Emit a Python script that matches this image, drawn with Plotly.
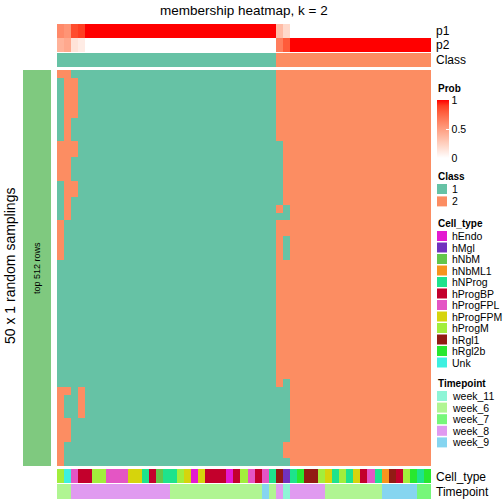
import plotly.graph_objects as go

# ---------------- data ----------------
n_samples = 53
n_runs = 50

# membership probabilities per sample (columns)
p1 = [0.6, 0.55, 0.85, 0.9, 1, 1, 1, 1, 1, 1, 1, 1, 1, 1, 1, 1, 1, 1, 1, 1,
      1, 1, 1, 1, 1, 1, 1, 1, 1, 1, 1, 0.35, 0.2, 0, 0, 0, 0, 0, 0, 0,
      0, 0, 0, 0, 0, 0, 0, 0, 0, 0, 0, 0, 0]
p2 = [0.4, 0.45, 0.15, 0.1, 0, 0, 0, 0, 0, 0, 0, 0, 0, 0, 0, 0, 0, 0, 0, 0,
      0, 0, 0, 0, 0, 0, 0, 0, 0, 0, 0, 0.65, 0.8, 1, 1, 1, 1, 1, 1, 1,
      1, 1, 1, 1, 1, 1, 1, 1, 1, 1, 1, 1, 1]

# consensus class per sample
class_row = ("1111111111111111111111111111111"
             "2222222222222222222222")

# class assigned in each of the 50 random samplings (rows), per sample
membership_rows = [
    "22111" "11111111111111111111111111" "222" "2222222222222222222",
    "12211" "11111111111111111111111111" "222" "2222222222222222222",
    "12211" "11111111111111111111111111" "222" "2222222222222222222",
    "12211" "11111111111111111111111111" "222" "2222222222222222222",
    "12211" "11111111111111111111111111" "222" "2222222222222222222",
    "12211" "11111111111111111111111111" "222" "2222222222222222222",
    "12111" "11111111111111111111111111" "222" "2222222222222222222",
    "12111" "11111111111111111111111111" "222" "2222222222222222222",
    "12111" "11111111111111111111111111" "222" "2222222222222222222",
    "22211" "11111111111111111111111111" "122" "2222222222222222222",
    "22211" "11111111111111111111111111" "122" "2222222222222222222",
    "22111" "11111111111111111111111111" "122" "2222222222222222222",
    "22111" "11111111111111111111111111" "122" "2222222222222222222",
    "22111" "11111111111111111111111111" "122" "2222222222222222222",
    "12211" "11111111111111111111111111" "122" "2222222222222222222",
    "12211" "11111111111111111111111111" "122" "2222222222222222222",
    "12111" "11111111111111111111111111" "122" "2222222222222222222",
    "12111" "11111111111111111111111111" "212" "2222222222222222222",
    "12111" "11111111111111111111111111" "112" "2222222222222222222",
    "21111" "11111111111111111111111111" "222" "2222222222222222222",
    "21111" "11111111111111111111111111" "222" "2222222222222222222",
    "21111" "11111111111111111111111111" "212" "2222222222222222222",
    "21111" "11111111111111111111111111" "212" "2222222222222222222",
    "21111" "11111111111111111111111111" "212" "2222222222222222222",
    "11111" "11111111111111111111111111" "222" "2222222222222222222",
    "11111" "11111111111111111111111111" "222" "2222222222222222222",
    "11111" "11111111111111111111111111" "222" "2222222222222222222",
    "11111" "11111111111111111111111111" "222" "2222222222222222222",
    "11111" "11111111111111111111111111" "222" "2222222222222222222",
    "11111" "11111111111111111111111111" "222" "2222222222222222222",
    "11111" "11111111111111111111111111" "222" "2222222222222222222",
    "11111" "11111111111111111111111111" "222" "2222222222222222222",
    "11111" "11111111111111111111111111" "222" "2222222222222222222",
    "11111" "11111111111111111111111111" "222" "2222222222222222222",
    "11111" "11111111111111111111111111" "222" "2222222222222222222",
    "11111" "11111111111111111111111111" "222" "2222222222222222222",
    "11111" "11111111111111111111111111" "222" "2222222222222222222",
    "11111" "11111111111111111111111111" "222" "2222222222222222222",
    "11111" "11111111111111111111111111" "222" "2222222222222222222",
    "11111" "11111111111111111111111111" "212" "2222222222222222222",
    "22121" "11111111111111111111111111" "112" "2222222222222222222",
    "21121" "11111111111111111111111111" "112" "2222222222222222222",
    "21121" "11111111111111111111111111" "112" "2222222222222222222",
    "21121" "11111111111111111111111111" "112" "2222222222222222222",
    "22111" "11111111111111111111111111" "112" "2222222222222222222",
    "22111" "11111111111111111111111111" "112" "2222222222222222222",
    "22111" "11111111111111111111111111" "112" "2222222222222222222",
    "21111" "11111111111111111111111111" "122" "2222222222222222222",
    "21111" "11111111111111111111111111" "122" "2222222222222222222",
    "21111" "11111111111111111111111111" "112" "2222222222222222222",
]

class_labels = ["1", "2"]
class_colors = ["#66C2A5", "#FC8D62"]

cell_types = ["hEndo", "hMgl", "hNbM", "hNbML1", "hNProg", "hProgBP",
              "hProgFPL", "hProgFPM", "hProgM", "hRgl1", "hRgl2b", "Unk"]
cell_colors = ["#E31AD0", "#7132BE", "#63C64A", "#F7941D", "#1EE38C", "#C3002C",
               "#E455C4", "#D6D40C", "#A2EE3C", "#921B14", "#28E82F", "#3DF0E0"]
sample_cell_type = [
    "hProgM", "Unk", "hProgFPL", "hProgBP", "hProgBP", "hProgM", "hProgM",
    "hProgFPL", "hProgFPL", "hProgFPL", "hProgFPM", "hProgFPM", "hNProg",
    "hProgBP", "hNbM", "hNProg", "hNProg", "hProgM", "hProgFPM", "hEndo",
    "hProgFPM", "hProgBP", "hProgBP", "hProgBP", "hEndo", "hProgBP", "hProgM",
    "hProgFPL", "hProgBP", "hProgFPL", "hNProg", "hRgl1", "hMgl", "hNProg",
    "hRgl2b", "hRgl1", "hRgl1", "hProgM", "hProgFPM", "hNProg", "hProgM",
    "hNProg", "hProgFPM", "hProgBP", "hProgFPL", "hNProg", "hNbML1", "hRgl1",
    "hProgBP", "hProgM", "hRgl2b", "hNProg", "hRgl2b"]

timepoints = ["week_11", "week_6", "week_7", "week_8", "week_9"]
time_colors = ["#8EF5D6", "#B0F592", "#76F77A", "#E09AF0", "#86D5F0"]
sample_timepoint = (
    ["week_6"] * 2 + ["week_8"] * 14 + ["week_6"] * 13 + ["week_9"] +
    ["week_6"] + ["week_8"] + ["week_11"] + ["week_8"] * 5 + ["week_6"] * 8 +
    ["week_9"] * 5 + ["week_7"] * 2)

assert all(len(r) == n_samples for r in membership_rows), [len(r) for r in membership_rows]
assert len(membership_rows) == n_runs
assert len(sample_cell_type) == n_samples and len(sample_timepoint) == n_samples
assert len(p1) == n_samples and len(p2) == n_samples and len(class_row) == n_samples

# ---------------- helpers ----------------
W = H = 504


def px(x):
    return x / W


def py(y):
    return 1 - y / H


def lab_to_hex(L, a, b):
    fy = (L + 16) / 116
    fx = fy + a / 500
    fz = fy - b / 200

    def finv(t):
        return t ** 3 if t > 6 / 29 else 3 * (6 / 29) ** 2 * (t - 4 / 29)
    X, Y, Z = 0.95047 * finv(fx), finv(fy), 1.08883 * finv(fz)
    rl = 3.2406 * X - 1.5372 * Y - 0.4986 * Z
    gl = -0.9689 * X + 1.8758 * Y + 0.0415 * Z
    bl = 0.0557 * X - 0.2040 * Y + 1.0570 * Z

    def g(c):
        c = min(max(c, 0), 1)
        return 12.92 * c if c <= 0.0031308 else 1.055 * c ** (1 / 2.4) - 0.055
    return "#%02X%02X%02X" % tuple(int(round(g(c) * 255)) for c in (rl, gl, bl))


white_lab = (100.0, 0.0, 0.0)
red_lab = (53.2408, 80.0925, 67.2032)
prob_scale = []
for i in range(11):
    t = i / 10
    lab = [w + (r - w) * t for w, r in zip(white_lab, red_lab)]
    prob_scale.append([t, lab_to_hex(*lab)])


def discrete_scale(colors):
    n = len(colors)
    cs = []
    for i, c in enumerate(colors):
        cs.append([i / n, c])
        cs.append([(i + 1) / n, c])
    return cs


FONT = "Liberation Sans, Arial, Helvetica, sans-serif"
LEG = 10.5
cols = list(range(n_samples))

fig = go.Figure()

# main membership heatmap
z_main = [[class_labels.index(ch) for ch in row] for row in membership_rows]
fig.add_trace(go.Heatmap(z=z_main, x=cols, y=list(range(n_runs)),
                         colorscale=discrete_scale(class_colors), zmin=-0.5, zmax=1.5,
                         showscale=False, hoverinfo="skip", xaxis="x", yaxis="y"))

# probability rows
fig.add_trace(go.Heatmap(z=[p1, p2], x=cols, y=[0, 1], colorscale=prob_scale, zmin=0, zmax=1,
                         hoverinfo="skip", xaxis="x", yaxis="y2", showscale=True,
                         colorbar=dict(x=px(437), xanchor="left", xpad=0, y=py(129), yanchor="middle",
                                       len=58, lenmode="pixels", thickness=12, thicknessmode="pixels",
                                       ypad=0, outlinewidth=0, tickvals=[0, 0.5, 1],
                                       ticktext=["0", "0.5", "1"], ticks="inside", ticklen=3,
                                       tickcolor="white", tickfont=dict(family=FONT, size=LEG, color="#000"))))

# class row
fig.add_trace(go.Heatmap(z=[[class_labels.index(ch) for ch in class_row]], x=cols, y=[0],
                         colorscale=discrete_scale(class_colors), zmin=-0.5, zmax=1.5,
                         showscale=False, hoverinfo="skip", xaxis="x", yaxis="y3"))

# cell type row
fig.add_trace(go.Heatmap(z=[[cell_types.index(c) for c in sample_cell_type]], x=cols, y=[0],
                         colorscale=discrete_scale(cell_colors), zmin=-0.5, zmax=len(cell_types) - 0.5,
                         showscale=False, hoverinfo="skip", xaxis="x", yaxis="y4"))

# timepoint row
fig.add_trace(go.Heatmap(z=[[timepoints.index(c) for c in sample_timepoint]], x=cols, y=[0],
                         colorscale=discrete_scale(time_colors), zmin=-0.5, zmax=len(timepoints) - 0.5,
                         showscale=False, hoverinfo="skip", xaxis="x", yaxis="y5"))

hidden = dict(visible=False, showgrid=False, zeroline=False, fixedrange=True)
x0, x1 = 57, 431
fig.update_layout(
    width=W, height=H, margin=dict(l=0, r=0, t=0, b=0),
    paper_bgcolor="white", plot_bgcolor="white",
    xaxis=dict(domain=[px(x0), px(x1)], range=[-0.5, n_samples - 0.5], **hidden),
    yaxis=dict(domain=[py(466), py(70)], range=[n_runs - 0.5, -0.5], anchor="x", **hidden),
    yaxis2=dict(domain=[py(52), py(24)], range=[1.5, -0.5], anchor="x", **hidden),
    yaxis3=dict(domain=[py(67), py(53)], range=[0.5, -0.5], anchor="x", **hidden),
    yaxis4=dict(domain=[py(483), py(469)], range=[0.5, -0.5], anchor="x", **hidden),
    yaxis5=dict(domain=[py(499), py(484)], range=[0.5, -0.5], anchor="x", **hidden),
    showlegend=False,
)

shapes = []
ann = []


def text(x, y, s, size=LEG, bold=False, anchor="left", angle=0):
    ann.append(dict(x=px(x), y=py(y), xref="paper", yref="paper", text=("<b>%s</b>" % s) if bold else s,
                    showarrow=False, xanchor=anchor, yanchor="middle", textangle=angle,
                    font=dict(family=FONT, size=size, color="#000")))


# title
text((x0 + x1) / 2, 10, "membership heatmap, k = 2", size=13.5, anchor="center")
# left row-title block
shapes.append(dict(type="rect", xref="paper", yref="paper", x0=px(23), x1=px(51), y0=py(466), y1=py(70),
                   fillcolor="#7FC97F", line=dict(width=0)))
text(37, 268, "top 512 rows", size=9, anchor="center", angle=-90)
text(10, 266, "50 x 1 random samplings", size=14, anchor="center", angle=-90)

# annotation names
text(434, 31, "p1", size=12)
text(434, 45, "p2", size=12)
text(434, 60, "Class", size=12)
text(434, 477, "Cell_type", size=12)
text(434, 492, "Timepoint", size=12)

# legends
text(436, 88, "Prob", size=10, bold=True)


def legend_block(title, y_title, y_first, labels, colors, step=11.6):
    text(436, y_title, title, size=10, bold=True)
    for i, (lab, c) in enumerate(zip(labels, colors)):
        yc = y_first + i * step
        shapes.append(dict(type="rect", xref="paper", yref="paper", x0=px(437), x1=px(447),
                           y0=py(yc + 5), y1=py(yc - 5), fillcolor=c, line=dict(width=0)))
        text(449.5, yc, lab)


legend_block("Class", 176, 189, class_labels, class_colors, step=12.4)
legend_block("Cell_type", 223, 236, cell_types, cell_colors, step=11.5)
legend_block("Timepoint", 383, 396, timepoints, time_colors, step=11.6)

fig.update_layout(shapes=shapes, annotations=ann)
fig.write_html("out.html", config={"displayModeBar": False, "staticPlot": True})

# remove the default page margin so the 504x504 figure fills the window exactly
with open("out.html", "r", encoding="utf-8") as f:
    html = f.read()
html = html.replace("<head>", "<head><style>html,body{margin:0;padding:0;overflow:hidden;}</style>", 1)
with open("out.html", "w", encoding="utf-8") as f:
    f.write(html)
